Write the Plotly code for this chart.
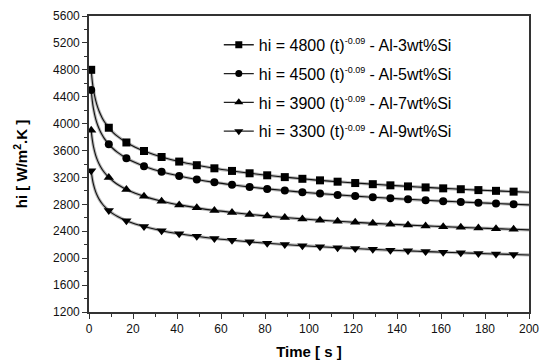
import plotly.graph_objects as go

# Time samples for the fitted curves [s]
time_curve = [1, 1.5, 2, 3, 4, 5, 6, 7, 9, 11, 13, 17, 21, 25, 33, 41, 49, 57, 65, 73, 81,
              89, 97, 105, 113, 121, 129, 137, 145, 153, 161, 169, 177, 185, 193, 200]
# Times where markers are drawn [s]
time_markers = [1, 9, 17, 25, 33, 41, 49, 57, 65, 73, 81, 89, 97, 105, 113, 121, 129,
                137, 145, 153, 161, 169, 177, 185, 193]

hi_al3 = [4800, 4628, 4510, 4348, 4237, 4153, 4085, 4029, 3939, 3868, 3811, 3720, 3650, 3593,
          3504, 3436, 3382, 3336, 3297, 3262, 3232, 3205, 3180, 3157, 3137, 3117, 3100, 3083,
          3067, 3052, 3038, 3025, 3012, 3001, 2989, 2980]
hi_al5 = [4500, 4339, 4228, 4076, 3972, 3893, 3830, 3777, 3693, 3627, 3572, 3487, 3422, 3368,
          3285, 3222, 3170, 3127, 3091, 3059, 3030, 3005, 2981, 2960, 2941, 2923, 2906, 2890,
          2875, 2861, 2848, 2836, 2824, 2813, 2802, 2793]
hi_al7 = [3900, 3760, 3664, 3533, 3443, 3374, 3319, 3274, 3200, 3143, 3096, 3022, 2965, 2919,
          2847, 2792, 2748, 2710, 2679, 2651, 2626, 2604, 2584, 2565, 2549, 2533, 2518, 2505,
          2492, 2480, 2469, 2458, 2448, 2438, 2429, 2421]
hi_al9 = [3300, 3182, 3100, 2989, 2913, 2855, 2809, 2770, 2708, 2659, 2620, 2557, 2509, 2470,
          2409, 2363, 2325, 2293, 2267, 2243, 2222, 2203, 2186, 2171, 2156, 2143, 2131, 2119,
          2109, 2098, 2089, 2080, 2071, 2063, 2055, 2048]

series_names = [
    "hi = 4800 (t)<sup><span style='font-size:9px'>-0.09</span></sup> - Al-3wt%Si",
    "hi = 4500 (t)<sup><span style='font-size:9px'>-0.09</span></sup> - Al-5wt%Si",
    "hi = 3900 (t)<sup><span style='font-size:9px'>-0.09</span></sup> - Al-7wt%Si",
    "hi = 3300 (t)<sup><span style='font-size:9px'>-0.09</span></sup> - Al-9wt%Si",
]
series_values = [hi_al3, hi_al5, hi_al7, hi_al9]
symbols = ["square", "circle", "triangle-up", "triangle-down"]
sizes = [8, 8, 9, 9]

x_ticks = list(range(0, 201, 20))
y_ticks = list(range(1200, 5601, 400))

FONT = "Liberation Sans, Arial, sans-serif"

fig = go.Figure()
for i, (name, vals, sym, sz) in enumerate(zip(series_names, series_values, symbols, sizes)):
    lookup = dict(zip(time_curve, vals))
    mvals = [lookup[t] for t in time_markers]
    # grey halo
    fig.add_trace(go.Scatter(x=time_curve, y=vals, mode="lines", line=dict(color="#b8b8b8", width=3.2, shape="spline"),
                             showlegend=False, hoverinfo="skip"))
    fig.add_trace(go.Scatter(x=time_curve, y=vals, mode="lines", line=dict(color="#111111", width=1.1, shape="spline"),
                             showlegend=False, hoverinfo="skip"))
    fig.add_trace(go.Scatter(x=time_markers, y=mvals, mode="markers",
                             marker=dict(symbol=sym, size=sz, color="black"), showlegend=False))
    # legend entry
    fig.add_trace(go.Scatter(x=[None], y=[None], mode="lines+markers", name=name,
                             legendgroup=f"g{i}",
                             line=dict(color="#222222", width=1.3),
                             marker=dict(symbol=sym, size=sz - 1, color="black")))

axis_common = dict(
    showgrid=False, zeroline=False, showline=True, linecolor="#333333", linewidth=1.6,
    mirror=True, ticks="outside", ticklen=5, tickwidth=1.3, tickcolor="#333333",
    tickfont=dict(family=FONT, size=12, color="#111111"), automargin=False,
)

fig.update_layout(
    width=541, height=360,
    margin=dict(l=89, r=12, t=16, b=48),
    paper_bgcolor="white", plot_bgcolor="white",
    font=dict(family=FONT, color="black"),
    xaxis=dict(range=[0, 200], tickvals=x_ticks,
               minor=dict(ticks="outside", ticklen=3, dtick=10, tickcolor="#333333", tickwidth=1.2),
               title=dict(text="<b>Time [ s ]</b>", font=dict(family=FONT, size=15), standoff=12),
               **axis_common),
    yaxis=dict(range=[1200, 5600], tickvals=y_ticks,
               minor=dict(ticks="outside", ticklen=3, dtick=200, tickcolor="#333333", tickwidth=1.2),
               title=dict(text="<b>hi [ W/m<sup>2</sup>.K ]</b>", font=dict(family=FONT, size=15), standoff=22),
               **axis_common),
    legend=dict(x=0.295, y=0.96, xanchor="left", yanchor="top", bgcolor="rgba(0,0,0,0)",
                font=dict(family=FONT, size=16, color="black"), tracegroupgap=5),
    showlegend=True,
)

fig.write_html("out.html")
